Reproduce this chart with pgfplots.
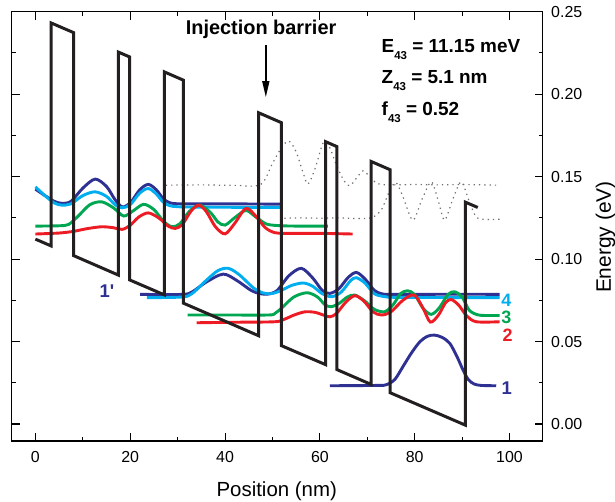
\documentclass[border=0pt]{standalone}
\usepackage{pgfplots}
\pgfplotsset{compat=1.18}
\usepackage{fontspec}
\setmainfont{Liberation Sans}
\usetikzlibrary{arrows.meta}
\definecolor{cdblue}{HTML}{2E3192}
\definecolor{ccyan}{HTML}{00AEEF}
\definecolor{cgreen}{HTML}{00A651}
\definecolor{cred}{HTML}{ED1C24}
\definecolor{cband}{HTML}{231F20}
\definecolor{cdot}{HTML}{707070}
\begin{document}
\begin{tikzpicture}
\begin{axis}[
  at={(0,0)}, anchor=south west,
  scale only axis, width=531bp, height=429.3bp,
  xmin=-5, xmax=107, ymin=-0.0103, ymax=0.25,
  xtick={0,20,40,60,80,100}, minor xtick={10,30,50,70,90},
  ytick={0,0.05,0.1,0.15,0.2,0.25}, minor ytick={0.025,0.075,0.125,0.175,0.225},
  yticklabel pos=right, ytick pos=both, xtick pos=both, xticklabel pos=bottom,
  major tick length=8bp, minor tick length=4bp,
  every tick/.style={line width=1.1bp, black},
  axis line style={line width=1.3bp, black},
  tick label style={font=\fontsize{16}{19}\selectfont},
  /pgf/number format/assume math mode=true,
  yticklabel style={/pgf/number format/.cd, fixed, fixed zerofill, precision=2, /tikz/.cd, xshift=5bp},
  xticklabel style={yshift=-6.5bp},
  scaled y ticks=false,
  clip=false,
]
% dotted upper-level wavefunctions
\addplot[cdot, line width=1.2bp, dash pattern=on 1.3bp off 4bp, smooth] coordinates {
(27.5,0.1448) (35,0.1450) (42,0.1447) (47.5,0.1452) (50,0.1580) (52,0.1680) (53.5,0.1715) (55,0.1650) (56.5,0.1520) (57.5,0.1455) (59,0.1550) (60.7,0.1705) (62,0.1680) (63.5,0.1570) (65,0.1480) (66.3,0.1445) (67.7,0.1490) (69.1,0.1535) (70.5,0.1500) (72,0.1460) (74,0.1450) (80,0.1452) (85,0.1450) (90,0.1452) (97.9,0.1448)};
\addplot[cdot, line width=1.2bp, dash pattern=on 1.3bp off 4bp, smooth] coordinates {
(52.5,0.1248) (56,0.1250) (60,0.1248) (64,0.1250) (68,0.1246) (71,0.1252) (73,0.1300) (74.5,0.1400) (76,0.1465) (77.5,0.1380) (79.6,0.1236) (81.5,0.1360) (83.5,0.1468) (85,0.1350) (86.3,0.1236) (88,0.1360) (89.8,0.1468) (91.5,0.1350) (93,0.1255) (95,0.1240) (97.9,0.1242)};
% upper period wavefunctions
\addplot[cdblue, line width=2.9bp, smooth] coordinates {
(0,0.1424) (2,0.1385) (4,0.1350) (5.6,0.1338) (7.5,0.1350) (10,0.1430) (12.6,0.1485) (15,0.1440) (16.8,0.1360) (18.3,0.1317) (20,0.1340) (22,0.1420) (23.8,0.1453) (25.5,0.1420) (27,0.1365) (28.5,0.1340) (31,0.1335) (40,0.1335) (51.9,0.1333)};
\addplot[ccyan, line width=2.9bp, smooth] coordinates {
(0,0.1438) (2,0.1385) (4,0.1340) (5.6,0.1327) (7.5,0.1335) (10,0.1385) (12.6,0.1408) (15,0.1380) (16.8,0.1330) (18.3,0.1311) (20,0.1330) (22,0.1400) (23.8,0.1428) (25.5,0.1395) (27,0.1345) (29,0.1320) (35,0.1315) (51.9,0.1313)};
\addplot[cgreen, line width=2.9bp, smooth] coordinates {
(0,0.1200) (5,0.1202) (7,0.1210) (9,0.1260) (11.5,0.1330) (14,0.1347) (16.5,0.1310) (18.6,0.1261) (20.5,0.1290) (22.8,0.1332) (25,0.1300) (27,0.1230) (28.8,0.1196) (30.5,0.1215) (32.5,0.1290) (34.7,0.1327) (37,0.1280) (38.5,0.1225) (40,0.1206) (42,0.1250) (44.4,0.1295) (46.5,0.1255) (48.8,0.1212) (52,0.1202) (56,0.1200) (61.7,0.1200)};
\addplot[cred, line width=2.9bp, smooth] coordinates {
(0,0.1152) (5,0.1158) (8,0.1168) (11,0.1185) (14,0.1196) (16.5,0.1190) (18.3,0.1180) (20,0.1205) (21.8,0.1255) (23.8,0.1280) (26,0.1250) (28,0.1200) (29.5,0.1186) (31,0.1210) (32.8,0.1290) (34.4,0.1327) (36,0.1290) (38,0.1195) (40,0.1153) (42,0.1215) (44.4,0.1307) (46.5,0.1260) (48.5,0.1190) (50.5,0.1160) (53,0.1156) (60,0.1156) (66.9,0.1152)};
% lower period wavefunctions
\addplot[cdblue, line width=2.9bp, smooth] coordinates {
(22.1,0.0786) (30.9,0.0786) (33,0.0800) (36,0.0860) (39.6,0.0909) (42.5,0.0870) (45.5,0.0810) (47.5,0.0790) (49.1,0.0788) (51,0.0810) (53.5,0.0900) (56.1,0.0944) (58.5,0.0885) (60.5,0.0810) (62.1,0.0792) (64,0.0820) (66,0.0890) (67.7,0.0919) (69.5,0.0880) (71.5,0.0810) (73,0.0790) (74.5,0.0786) (80,0.0786) (90,0.0787) (97.9,0.0786)};
\addplot[ccyan, line width=2.9bp, smooth] coordinates {
(23.5,0.0766) (30.9,0.0770) (33,0.0790) (36,0.0870) (38.5,0.0930) (40.7,0.0944) (43,0.0905) (46,0.0825) (48,0.0795) (49.6,0.0790) (51.5,0.0805) (54,0.0840) (56.5,0.0855) (58.5,0.0835) (60.5,0.0790) (62.5,0.0772) (64.5,0.0800) (66.5,0.0870) (67.7,0.0887) (69.5,0.0855) (71.5,0.0790) (73.7,0.0772) (76,0.0768) (85,0.0767) (97.9,0.0766)};
\addplot[cgreen, line width=2.9bp, smooth] coordinates {
(32.1,0.0661) (40,0.0661) (49.1,0.0661) (50.5,0.0670) (52,0.0705) (54.5,0.0770) (57.3,0.0796) (59.5,0.0770) (61,0.0725) (62.3,0.0711) (64,0.0730) (65.8,0.0770) (67.4,0.0782) (69.5,0.0745) (71.5,0.0695) (73.7,0.0681) (75.5,0.0725) (77,0.0790) (78.5,0.0808) (80,0.0785) (81.8,0.0700) (83.5,0.0665) (85.2,0.0705) (87,0.0785) (88.4,0.0802) (90,0.0770) (91.5,0.0690) (93.3,0.0662) (95,0.0658) (97.9,0.0658)};
\addplot[cred, line width=2.9bp, smooth] coordinates {
(34,0.0614) (42,0.0617) (50.5,0.0620) (52.5,0.0635) (54.5,0.0660) (56.8,0.0680) (59,0.0677) (60.8,0.0660) (62.1,0.0650) (63.5,0.0670) (65.5,0.0740) (67.4,0.0778) (69.3,0.0745) (71.2,0.0680) (73,0.0661) (75,0.0680) (77.5,0.0750) (79.9,0.0782) (81.8,0.0700) (83.3,0.0618) (85,0.0660) (86.5,0.0735) (87.7,0.0755) (89.3,0.0720) (91,0.0655) (93,0.0620) (97.9,0.0620)};
\addplot[cdblue, line width=2.9bp, smooth] coordinates {
(62.1,0.0232) (72,0.0234) (74,0.0238) (75.8,0.0270) (77.5,0.0347) (79.3,0.0430) (81.1,0.0499) (82.7,0.0532) (84.2,0.0539) (85.8,0.0525) (87.4,0.0489) (88.9,0.0410) (90.2,0.0327) (91.3,0.0270) (92.5,0.0243) (94,0.0234) (97.2,0.0232)};
% conduction band profile
\addplot[cband, line width=3bp, line join=miter] coordinates {
(0,0.1121) (3.3,0.1080) (3.3,0.2432) (8.06,0.2373) (8.06,0.1021) (17.5,0.0903) (17.5,0.2255) (19.85,0.2226) (19.85,0.0874) (27.2,0.0783) (27.2,0.2135) (31.2,0.2085) (31.2,0.0733) (47.1,0.0535) (47.1,0.1887) (51.9,0.1827) (51.9,0.0475) (61.2,0.0360) (61.2,0.1712) (63.6,0.1682) (63.6,0.0330) (70.8,0.0240) (70.8,0.1592) (74.8,0.1542) (74.8,0.0190) (90.7,-0.0007) (90.7,0.1345) (93.3,0.1313)};
% annotations
\node[anchor=base, inner sep=0pt, font=\fontsize{20}{24}\selectfont\bfseries] at (axis cs:47.6,0.2364) {Injection barrier};
\draw[line width=1.5bp, -{Triangle[length=16bp,width=7bp]}] (axis cs:48.6,0.2297) -- (axis cs:48.6,0.1982);
\node[anchor=base west, inner sep=0pt, font=\fontsize{19}{23}\selectfont\bfseries] at (axis cs:73.0,0.2250) {E\raisebox{-7bp}{\fontsize{11.5}{12}\selectfont 43} = 11.15 meV};
\node[anchor=base west, inner sep=0pt, font=\fontsize{19}{23}\selectfont\bfseries] at (axis cs:73.0,0.2065) {Z\raisebox{-7bp}{\fontsize{11.5}{12}\selectfont 43} = 5.1 nm};
\node[anchor=base west, inner sep=0pt, font=\fontsize{19}{23}\selectfont\bfseries] at (axis cs:73.0,0.1873) {f\raisebox{-7bp}{\fontsize{11.5}{12}\selectfont 43} = 0.52};
\node[anchor=base west, inner sep=0pt, text=cdblue, font=\fontsize{18.5}{22}\selectfont\bfseries] at (axis cs:13.5,0.0770) {1\textquotesingle};
\node[anchor=base west, inner sep=0pt, text=ccyan, font=\fontsize{18}{22}\selectfont\bfseries] at (axis cs:98.25,0.0712) {4};
\node[anchor=base west, inner sep=0pt, text=cgreen, font=\fontsize{18}{22}\selectfont\bfseries] at (axis cs:98.25,0.0612) {3};
\node[anchor=base west, inner sep=0pt, text=cred, font=\fontsize{18}{22}\selectfont\bfseries] at (axis cs:98.5,0.0499) {2};
\node[anchor=base west, inner sep=0pt, text=cdblue, font=\fontsize{18.5}{22}\selectfont\bfseries] at (axis cs:98.3,0.0176) {1};
\node[anchor=base, inner sep=0pt, font=\fontsize{20.5}{24}\selectfont] at (axis cs:50.9,-0.0442) {Position (nm)};
\node[anchor=base, rotate=90, inner sep=0pt, font=\fontsize{21}{25}\selectfont] at (axis cs:121.4,0.1133) {Energy (eV)};
\end{axis}
\pgfresetboundingbox
\path[use as bounding box] (-11.7bp,-61bp) rectangle (603.3bp,441bp);
\end{tikzpicture}
\end{document}
